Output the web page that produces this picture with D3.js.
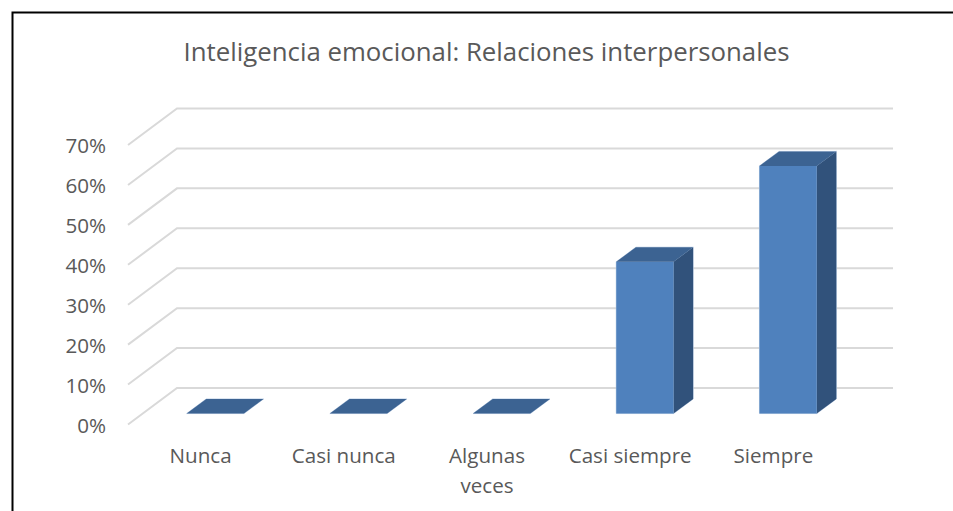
<!DOCTYPE html>
<html>
<head>
<meta charset="utf-8">
<script src="https://cdn.jsdelivr.net/npm/d3@7"></script>
<style>
  html, body { margin: 0; padding: 0; background: #fff; }
  svg { display: block; }
  text { font-family: "Open Sans", sans-serif; fill: #595959; }
</style>
</head>
<body>
<div id="chart"></div>
<script>
const title = "Inteligencia emocional: Relaciones interpersonales";
const categories = ["Nunca", "Casi nunca", "Algunas veces", "Casi siempre", "Siempre"];
const values = [0, 0, 0, 38, 62];
const yTicks = [0, 10, 20, 30, 40, 50, 60, 70];

const width = 953;
const height = 511;

// front plane of the fake 3D box, and how far the back wall is shifted
const plotLeft = 128;
const plotRight = 844;
const y0 = 424.5;
const y70 = 145;
const depthX = 49;
const depthY = -36.5;

// bars and labels sit about 1px right of the gridline start
const x = d3.scaleBand()
  .domain(categories)
  .range([plotLeft + 1, plotRight + 1])
  .paddingInner(0.6)
  .paddingOuter(0.3);

const y = d3.scaleLinear().domain([0, 70]).range([y0, y70]);

const svg = d3.select("#chart").append("svg")
  .attr("width", width)
  .attr("height", height)
  .attr("viewBox", [0, 0, width, height]);

// outer frame: only left and top show, the rest is cropped away
svg.append("path")
  .attr("d", "M12.5,511V12.5H953")
  .attr("fill", "none")
  .attr("stroke", "#000")
  .attr("stroke-width", 2);

svg.append("text")
  .attr("x", 486.5)
  .attr("y", 60.5)
  .attr("text-anchor", "middle")
  .attr("font-size", 25.8)
  .text(title);

// gridlines: slanted part on the side wall, then along the back wall
svg.append("g")
  .selectAll("path")
  .data(yTicks)
  .join("path")
  .attr("d", d => d3.line()([
    [plotLeft, y(d)],
    [plotLeft + depthX, y(d) + depthY],
    [plotRight + depthX, y(d) + depthY]
  ]))
  .attr("fill", "none")
  .attr("stroke", "#d9d9d9")
  .attr("stroke-width", 2);

svg.append("g")
  .selectAll("text")
  .data(yTicks)
  .join("text")
  .attr("x", 106)
  .attr("y", d => y(d) + 8)
  .attr("text-anchor", "end")
  .attr("font-size", 20.6)
  .text(d => d + "%");

// bars sit in the middle 40% of the box depth
const nearFrac = 0.3;
const farFrac = 0.7;
const nx = depthX * nearFrac;
const ny = depthY * nearFrac;
const fx = depthX * farFrac;
const fy = depthY * farFrac;

const data = categories.map((c, i) => ({ c, v: values[i] }));

function faces(d) {
  const l = x(d.c);
  const r = l + x.bandwidth();
  const t = y(d.v);
  const top = { fill: "#3c6392", pts: [[l + nx, t + ny], [l + fx, t + fy], [r + fx, t + fy], [r + nx, t + ny]] };
  if (d.v === 0) return [top];
  const side = { fill: "#31527b", pts: [[r + nx, t + ny], [r + fx, t + fy], [r + fx, y0 + fy], [r + nx, y0 + ny]] };
  const front = { fill: "#4f81bd", pts: [[l + nx, t + ny], [r + nx, t + ny], [r + nx, y0 + ny], [l + nx, y0 + ny]] };
  return [side, front, top];
}

const polygon = f => d3.line()(f.pts) + "Z";
const bars = svg.append("g").selectAll("g").data(data).join("g");

// pale outline goes first so it only shows around the outside of each bar
bars.selectAll("path.halo")
  .data(faces)
  .join("path")
  .attr("class", "halo")
  .attr("d", polygon)
  .attr("fill", "none")
  .attr("stroke", "#bfd0e6")
  .attr("stroke-width", 1);

bars.selectAll("path.face")
  .data(faces)
  .join("path")
  .attr("class", "face")
  .attr("d", polygon)
  .attr("fill", f => f.fill);

// category labels, wrapped when too long for the band
const labels = svg.append("g")
  .selectAll("text")
  .data(categories)
  .join("text")
  .attr("text-anchor", "middle")
  .attr("font-size", 20.6)
  .attr("y", 463);

labels.each(function (d) {
  const words = d === "Algunas veces" ? d.split(" ") : [d];
  const cx = x(d) + x.bandwidth() / 2;
  words.forEach((w, i) => {
    d3.select(this).append("tspan")
      .attr("x", cx)
      .attr("dy", i === 0 ? 0 : 30)
      .text(w);
  });
});
</script>
</body>
</html>
